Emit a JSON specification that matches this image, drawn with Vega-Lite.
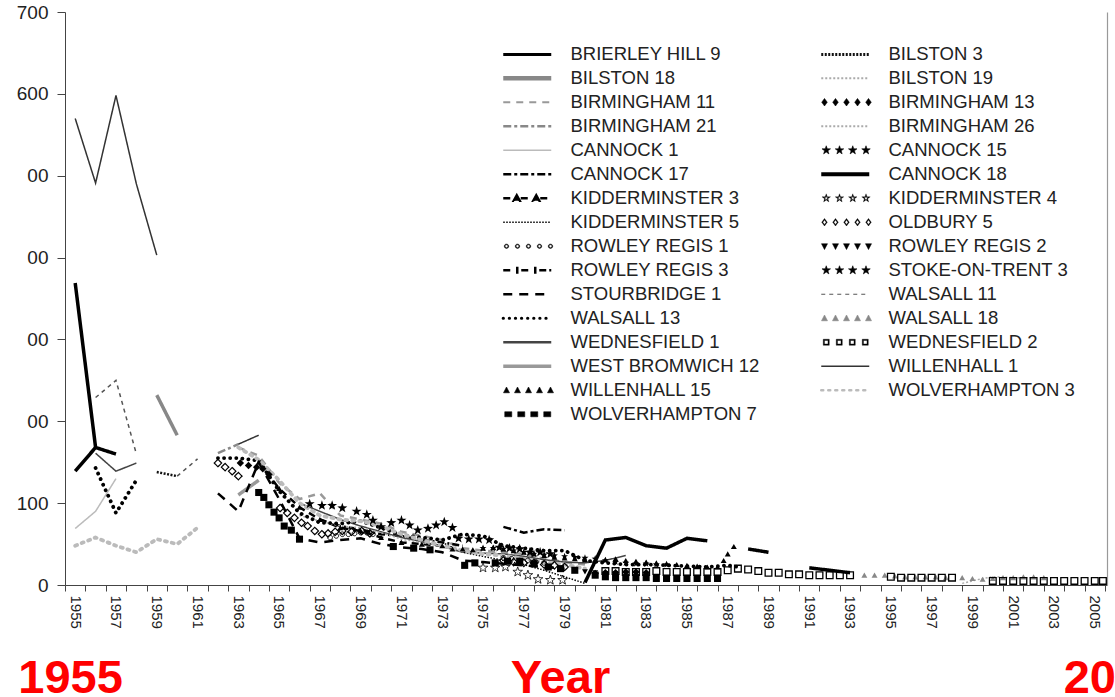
{
"$schema":"https://vega.github.io/schema/vega-lite/v6.json",
"autosize":{"type":"none"},
"width":1042,"height":573,
"padding":{"left":65,"top":12,"right":8,"bottom":112},
"background":"white",
"config":{"view":{"stroke":null},"font":"Liberation Sans","axis":{"grid":false},"legend":{"labelFont":"Liberation Sans"}},
"params":[
{"name":"shp","value":{
"L":"M-1,0H8.6",
"DIA":"M-0.35,-0.75L0.2,0L-0.35,0.75L-0.9,0ZM1.85,-0.75L2.4,0L1.85,0.75L1.3,0ZM4.05,-0.75L4.6,0L4.05,0.75L3.5,0ZM6.25,-0.75L6.8,0L6.25,0.75L5.7,0ZM8.45,-0.75L9,0L8.45,0.75L7.9,0Z",
"DIAH":"M-0.35,-0.75L0.2,0L-0.35,0.75L-0.9,0ZM-0.35,-0.45L-0.68,0L-0.35,0.45L-0.02,0ZM1.85,-0.75L2.4,0L1.85,0.75L1.3,0ZM1.85,-0.45L1.52,0L1.85,0.45L2.18,0ZM4.05,-0.75L4.6,0L4.05,0.75L3.5,0ZM4.05,-0.45L3.72,0L4.05,0.45L4.38,0ZM6.25,-0.75L6.8,0L6.25,0.75L5.7,0ZM6.25,-0.45L5.92,0L6.25,0.45L6.58,0ZM8.45,-0.75L9,0L8.45,0.75L7.9,0ZM8.45,-0.45L8.12,0L8.45,0.45L8.78,0Z",
"STAR":"M0,-0.9L0.212,-0.291L0.856,-0.278L0.342,0.111L0.529,0.728L0,0.36L-0.529,0.728L-0.342,0.111L-0.856,-0.278L-0.212,-0.291ZM2.65,-0.9L2.862,-0.291L3.506,-0.278L2.992,0.111L3.179,0.728L2.65,0.36L2.121,0.728L2.308,0.111L1.794,-0.278L2.438,-0.291ZM5.3,-0.9L5.512,-0.291L6.156,-0.278L5.642,0.111L5.829,0.728L5.3,0.36L4.771,0.728L4.958,0.111L4.444,-0.278L5.088,-0.291ZM7.95,-0.9L8.162,-0.291L8.806,-0.278L8.292,0.111L8.479,0.728L7.95,0.36L7.421,0.728L7.608,0.111L7.094,-0.278L7.738,-0.291Z",
"STARH":"M0,-0.9L0.212,-0.291L0.856,-0.278L0.342,0.111L0.529,0.728L0,0.36L-0.529,0.728L-0.342,0.111L-0.856,-0.278L-0.212,-0.291ZM0,-0.45L-0.106,-0.146L-0.428,-0.139L-0.171,0.056L-0.265,0.364L0,0.18L0.265,0.364L0.171,0.056L0.428,-0.139L0.106,-0.146ZM2.65,-0.9L2.862,-0.291L3.506,-0.278L2.992,0.111L3.179,0.728L2.65,0.36L2.121,0.728L2.308,0.111L1.794,-0.278L2.438,-0.291ZM2.65,-0.45L2.544,-0.146L2.222,-0.139L2.479,0.056L2.385,0.364L2.65,0.18L2.915,0.364L2.821,0.056L3.078,-0.139L2.756,-0.146ZM5.3,-0.9L5.512,-0.291L6.156,-0.278L5.642,0.111L5.829,0.728L5.3,0.36L4.771,0.728L4.958,0.111L4.444,-0.278L5.088,-0.291ZM5.3,-0.45L5.194,-0.146L4.872,-0.139L5.129,0.056L5.035,0.364L5.3,0.18L5.565,0.364L5.471,0.056L5.728,-0.139L5.406,-0.146ZM7.95,-0.9L8.162,-0.291L8.806,-0.278L8.292,0.111L8.479,0.728L7.95,0.36L7.421,0.728L7.608,0.111L7.094,-0.278L7.738,-0.291ZM7.95,-0.45L7.844,-0.146L7.522,-0.139L7.779,0.056L7.685,0.364L7.95,0.18L8.215,0.364L8.121,0.056L8.378,-0.139L8.056,-0.146Z",
"TRIU":"M-0.35,-0.65L0.25,0.5L-0.95,0.5ZM1.85,-0.65L2.45,0.5L1.25,0.5ZM4.05,-0.65L4.65,0.5L3.45,0.5ZM6.25,-0.65L6.85,0.5L5.65,0.5ZM8.45,-0.65L9.05,0.5L7.85,0.5Z",
"TRID":"M-0.95,-0.5L0.25,-0.5L-0.35,0.65ZM1.25,-0.5L2.45,-0.5L1.85,0.65ZM3.45,-0.5L4.65,-0.5L4.05,0.65ZM5.65,-0.5L6.85,-0.5L6.25,0.65ZM7.85,-0.5L9.05,-0.5L8.45,0.65Z",
"CIRH":"M-0.8,0a0.45,0.45 0 1,0 0.9,0a0.45,0.45 0 1,0 -0.9,0M-0.63,0a0.28,0.28 0 1,1 0.56,0a0.28,0.28 0 1,1 -0.56,0M1.4,0a0.45,0.45 0 1,0 0.9,0a0.45,0.45 0 1,0 -0.9,0M1.57,0a0.28,0.28 0 1,1 0.56,0a0.28,0.28 0 1,1 -0.56,0M3.6,0a0.45,0.45 0 1,0 0.9,0a0.45,0.45 0 1,0 -0.9,0M3.77,0a0.28,0.28 0 1,1 0.56,0a0.28,0.28 0 1,1 -0.56,0M5.8,0a0.45,0.45 0 1,0 0.9,0a0.45,0.45 0 1,0 -0.9,0M5.97,0a0.28,0.28 0 1,1 0.56,0a0.28,0.28 0 1,1 -0.56,0M8,0a0.45,0.45 0 1,0 0.9,0a0.45,0.45 0 1,0 -0.9,0M8.17,0a0.28,0.28 0 1,1 0.56,0a0.28,0.28 0 1,1 -0.56,0",
"SQH":"M-0.6,-0.6H0.6V0.6H-0.6ZM-0.35,-0.35V0.35H0.35V-0.35ZM2,-0.6H3.2V0.6H2ZM2.25,-0.35V0.35H2.95V-0.35ZM4.6,-0.6H5.8V0.6H4.6ZM4.85,-0.35V0.35H5.55V-0.35ZM7.2,-0.6H8.4V0.6H7.2ZM7.45,-0.35V0.35H8.15V-0.35Z",
"SQF":"M-0.7,-0.5H0.7V0.5H-0.7ZM1.9,-0.5H3.3V0.5H1.9ZM4.5,-0.5H5.9V0.5H4.5ZM7.1,-0.5H8.5V0.5H7.1Z",
"K3":"M-1,0H0.9M2.5,0H4.8M6.4,0H8.6M1.7,-0.6L2.3,0.5L1.1,0.5ZM5.6,-0.6L6.2,0.5L5,0.5Z",
"RR3":"M-1,0H1M2.6,0H4.6M6.2,0H8.6M1.8,-0.7V0.7M5.4,-0.7V0.7"}},
{"name":"sty","value":{
"BRIERLEY HILL 9":{"p":"L","w":3},
"BILSTON 3":{"p":"L","w":3},
"BILSTON 18":{"p":"L","w":4.5},
"BILSTON 19":{"p":"L","w":2},
"BIRMINGHAM 11":{"p":"L","w":2},
"BIRMINGHAM 13":{"p":"DIA","w":0.6},
"BIRMINGHAM 21":{"p":"L","w":2.5},
"BIRMINGHAM 26":{"p":"L","w":2},
"CANNOCK 1":{"p":"L","w":1.5},
"CANNOCK 15":{"p":"STAR","w":0.6},
"CANNOCK 17":{"p":"L","w":2.5},
"CANNOCK 18":{"p":"L","w":4},
"KIDDERMINSTER 3":{"p":"K3","w":2.5},
"KIDDERMINSTER 4":{"p":"STARH","w":0.3},
"KIDDERMINSTER 5":{"p":"L","w":1.5},
"OLDBURY 5":{"p":"DIAH","w":0.4},
"ROWLEY REGIS 1":{"p":"CIRH","w":0.4},
"ROWLEY REGIS 2":{"p":"TRID","w":0.6},
"ROWLEY REGIS 3":{"p":"RR3","w":2.5},
"STOKE-ON-TRENT 3":{"p":"STAR","w":0.6},
"STOURBRIDGE 1":{"p":"L","w":2.5},
"WALSALL 11":{"p":"L","w":1.2},
"WALSALL 13":{"p":"L","w":3.2,"r":true},
"WALSALL 18":{"p":"TRIU","w":0.6},
"WEDNESFIELD 1":{"p":"L","w":2.5},
"WEDNESFIELD 2":{"p":"SQH","w":0.4},
"WEST BROMWICH 12":{"p":"L","w":3.5},
"WILLENHALL 1":{"p":"L","w":1.5},
"WILLENHALL 15":{"p":"TRIU","w":0.6},
"WOLVERHAMPTON 3":{"p":"L","w":2.5,"r":true},
"WOLVERHAMPTON 7":{"p":"SQF","w":0.6}}}
],
"data":{"values":[
{"s":"BRIERLEY HILL 9","x":1955,"y":369},{"s":"BRIERLEY HILL 9","x":1956,"y":168},{"s":"BRIERLEY HILL 9","x":1957,"y":160},
{"s":"CANNOCK 18","x":1955,"y":139},{"s":"CANNOCK 18","x":1956,"y":168},{"s":"CANNOCK 18","x":1957,"y":null},{"s":"CANNOCK 18","x":1980,"y":3},{"s":"CANNOCK 18","x":1981,"y":55},{"s":"CANNOCK 18","x":1982,"y":58},{"s":"CANNOCK 18","x":1983,"y":48},{"s":"CANNOCK 18","x":1984,"y":45},{"s":"CANNOCK 18","x":1985,"y":57},{"s":"CANNOCK 18","x":1986,"y":54},{"s":"CANNOCK 18","x":1987,"y":null},{"s":"CANNOCK 18","x":1988,"y":44},{"s":"CANNOCK 18","x":1989,"y":40},{"s":"CANNOCK 18","x":1990,"y":null},{"s":"CANNOCK 18","x":1991,"y":21},{"s":"CANNOCK 18","x":1992,"y":18},{"s":"CANNOCK 18","x":1993,"y":15},
{"s":"BILSTON 18","x":1959,"y":232},{"s":"BILSTON 18","x":1960,"y":183},
{"s":"WEST BROMWICH 12","x":1963,"y":110},{"s":"WEST BROMWICH 12","x":1964,"y":128},
{"s":"WILLENHALL 1","x":1955,"y":570},{"s":"WILLENHALL 1","x":1956,"y":491},{"s":"WILLENHALL 1","x":1957,"y":598},{"s":"WILLENHALL 1","x":1958,"y":490},{"s":"WILLENHALL 1","x":1959,"y":403},{"s":"WILLENHALL 1","x":1960,"y":null},{"s":"WILLENHALL 1","x":1963,"y":172},{"s":"WILLENHALL 1","x":1964,"y":183},
{"s":"WEDNESFIELD 1","x":1956,"y":161},{"s":"WEDNESFIELD 1","x":1957,"y":139},{"s":"WEDNESFIELD 1","x":1958,"y":149},{"s":"WEDNESFIELD 1","x":1959,"y":null},{"s":"WEDNESFIELD 1","x":1966,"y":100},{"s":"WEDNESFIELD 1","x":1967,"y":90},{"s":"WEDNESFIELD 1","x":1968,"y":80},{"s":"WEDNESFIELD 1","x":1969,"y":72},{"s":"WEDNESFIELD 1","x":1970,"y":65},{"s":"WEDNESFIELD 1","x":1971,"y":58},{"s":"WEDNESFIELD 1","x":1972,"y":53},{"s":"WEDNESFIELD 1","x":1973,"y":47},{"s":"WEDNESFIELD 1","x":1974,"y":40},{"s":"WEDNESFIELD 1","x":1975,"y":39},{"s":"WEDNESFIELD 1","x":1976,"y":38},{"s":"WEDNESFIELD 1","x":1977,"y":35},{"s":"WEDNESFIELD 1","x":1978,"y":31},{"s":"WEDNESFIELD 1","x":1979,"y":28},{"s":"WEDNESFIELD 1","x":1980,"y":27},{"s":"WEDNESFIELD 1","x":1981,"y":30},{"s":"WEDNESFIELD 1","x":1982,"y":36},
{"s":"WALSALL 11","x":1956,"y":229},{"s":"WALSALL 11","x":1957,"y":250},{"s":"WALSALL 11","x":1958,"y":160},{"s":"WALSALL 11","x":1959,"y":null},{"s":"WALSALL 11","x":1960,"y":133},{"s":"WALSALL 11","x":1961,"y":154},
{"s":"BILSTON 3","x":1959,"y":138},{"s":"BILSTON 3","x":1960,"y":133},
{"s":"CANNOCK 1","x":1955,"y":69},{"s":"CANNOCK 1","x":1956,"y":90},{"s":"CANNOCK 1","x":1957,"y":130},
{"s":"BIRMINGHAM 21","x":1962,"y":161},{"s":"BIRMINGHAM 21","x":1963,"y":172},
{"s":"BIRMINGHAM 11","x":1963,"y":168},{"s":"BIRMINGHAM 11","x":1964,"y":158},{"s":"BIRMINGHAM 11","x":1965,"y":125},{"s":"BIRMINGHAM 11","x":1966,"y":105},{"s":"BIRMINGHAM 11","x":1967,"y":112},{"s":"BIRMINGHAM 11","x":1968,"y":85},{"s":"BIRMINGHAM 11","x":1969,"y":80},{"s":"BIRMINGHAM 11","x":1970,"y":75},{"s":"BIRMINGHAM 11","x":1971,"y":65},{"s":"BIRMINGHAM 11","x":1972,"y":60},{"s":"BIRMINGHAM 11","x":1973,"y":55},{"s":"BIRMINGHAM 11","x":1974,"y":45},{"s":"BIRMINGHAM 11","x":1975,"y":42},{"s":"BIRMINGHAM 11","x":1976,"y":40},{"s":"BIRMINGHAM 11","x":1977,"y":38},{"s":"BIRMINGHAM 11","x":1978,"y":32},{"s":"BIRMINGHAM 11","x":1979,"y":28},{"s":"BIRMINGHAM 11","x":1980,"y":25},
{"s":"STOURBRIDGE 1","x":1962,"y":112},{"s":"STOURBRIDGE 1","x":1963,"y":90},{"s":"STOURBRIDGE 1","x":1964,"y":150},{"s":"STOURBRIDGE 1","x":1965,"y":105},{"s":"STOURBRIDGE 1","x":1966,"y":57},{"s":"STOURBRIDGE 1","x":1967,"y":52},{"s":"STOURBRIDGE 1","x":1968,"y":55},{"s":"STOURBRIDGE 1","x":1969,"y":57},{"s":"STOURBRIDGE 1","x":1970,"y":50},{"s":"STOURBRIDGE 1","x":1971,"y":46},{"s":"STOURBRIDGE 1","x":1972,"y":44},{"s":"STOURBRIDGE 1","x":1973,"y":40},{"s":"STOURBRIDGE 1","x":1974,"y":30},{"s":"STOURBRIDGE 1","x":1975,"y":28},{"s":"STOURBRIDGE 1","x":1976,"y":26},{"s":"STOURBRIDGE 1","x":1977,"y":24},{"s":"STOURBRIDGE 1","x":1978,"y":22},{"s":"STOURBRIDGE 1","x":1979,"y":20},
{"s":"KIDDERMINSTER 3","x":1964,"y":150},{"s":"KIDDERMINSTER 3","x":1965,"y":118},{"s":"KIDDERMINSTER 3","x":1966,"y":95},{"s":"KIDDERMINSTER 3","x":1967,"y":80},{"s":"KIDDERMINSTER 3","x":1968,"y":70},{"s":"KIDDERMINSTER 3","x":1969,"y":66},{"s":"KIDDERMINSTER 3","x":1970,"y":58},{"s":"KIDDERMINSTER 3","x":1971,"y":52},{"s":"KIDDERMINSTER 3","x":1972,"y":50},{"s":"KIDDERMINSTER 3","x":1973,"y":48},
{"s":"CANNOCK 17","x":1976,"y":71},{"s":"CANNOCK 17","x":1977,"y":64},{"s":"CANNOCK 17","x":1978,"y":68},{"s":"CANNOCK 17","x":1979,"y":67},
{"s":"ROWLEY REGIS 3","x":1967,"y":80},{"s":"ROWLEY REGIS 3","x":1968,"y":72},{"s":"ROWLEY REGIS 3","x":1969,"y":68},{"s":"ROWLEY REGIS 3","x":1970,"y":62},{"s":"ROWLEY REGIS 3","x":1971,"y":60},{"s":"ROWLEY REGIS 3","x":1972,"y":55},{"s":"ROWLEY REGIS 3","x":1973,"y":52},{"s":"ROWLEY REGIS 3","x":1974,"y":48},
{"s":"KIDDERMINSTER 5","x":1973,"y":52},{"s":"KIDDERMINSTER 5","x":1974,"y":40},{"s":"KIDDERMINSTER 5","x":1975,"y":35},{"s":"KIDDERMINSTER 5","x":1976,"y":30},{"s":"KIDDERMINSTER 5","x":1977,"y":25},{"s":"KIDDERMINSTER 5","x":1978,"y":18},{"s":"KIDDERMINSTER 5","x":1979,"y":10},{"s":"KIDDERMINSTER 5","x":1980,"y":2},
{"s":"BILSTON 19","x":1966,"y":85},{"s":"BILSTON 19","x":1967,"y":78},{"s":"BILSTON 19","x":1968,"y":72},{"s":"BILSTON 19","x":1969,"y":70},{"s":"BILSTON 19","x":1970,"y":64},{"s":"BILSTON 19","x":1971,"y":56},{"s":"BILSTON 19","x":1972,"y":52},{"s":"BILSTON 19","x":1973,"y":47},
{"s":"BIRMINGHAM 26","x":1998.5,"y":2},{"s":"BIRMINGHAM 26","x":1999,"y":5},{"s":"BIRMINGHAM 26","x":1999.5,"y":8},{"s":"BIRMINGHAM 26","x":2000,"y":10},{"s":"BIRMINGHAM 26","x":2001,"y":9},{"s":"BIRMINGHAM 26","x":2002,"y":9},
{"s":"WALSALL 13","x":1956,"y":143},{"s":"WALSALL 13","x":1957,"y":88},{"s":"WALSALL 13","x":1958,"y":128},{"s":"WALSALL 13","x":1959,"y":null},{"s":"WALSALL 13","x":1962,"y":155},{"s":"WALSALL 13","x":1963,"y":155},{"s":"WALSALL 13","x":1964,"y":152},{"s":"WALSALL 13","x":1965,"y":115},{"s":"WALSALL 13","x":1966,"y":88},{"s":"WALSALL 13","x":1967,"y":76},{"s":"WALSALL 13","x":1968,"y":75},{"s":"WALSALL 13","x":1969,"y":78},{"s":"WALSALL 13","x":1970,"y":70},{"s":"WALSALL 13","x":1971,"y":61},{"s":"WALSALL 13","x":1972,"y":58},{"s":"WALSALL 13","x":1973,"y":55},{"s":"WALSALL 13","x":1974,"y":62},{"s":"WALSALL 13","x":1975,"y":60},{"s":"WALSALL 13","x":1976,"y":48},{"s":"WALSALL 13","x":1977,"y":45},{"s":"WALSALL 13","x":1978,"y":42},{"s":"WALSALL 13","x":1979,"y":42},{"s":"WALSALL 13","x":1980,"y":30},{"s":"WALSALL 13","x":1981,"y":27},{"s":"WALSALL 13","x":1982,"y":25},{"s":"WALSALL 13","x":1983,"y":25},{"s":"WALSALL 13","x":1984,"y":24},{"s":"WALSALL 13","x":1985,"y":23},{"s":"WALSALL 13","x":1986,"y":22},{"s":"WALSALL 13","x":1987,"y":24},{"s":"WALSALL 13","x":1987.5,"y":22},
{"s":"WOLVERHAMPTON 3","x":1955,"y":48},{"s":"WOLVERHAMPTON 3","x":1956,"y":58},{"s":"WOLVERHAMPTON 3","x":1957,"y":48},{"s":"WOLVERHAMPTON 3","x":1958,"y":40},{"s":"WOLVERHAMPTON 3","x":1959,"y":56},{"s":"WOLVERHAMPTON 3","x":1960,"y":50},{"s":"WOLVERHAMPTON 3","x":1961,"y":70},{"s":"WOLVERHAMPTON 3","x":1962,"y":null},{"s":"WOLVERHAMPTON 3","x":1963,"y":168},{"s":"WOLVERHAMPTON 3","x":1964,"y":153},{"s":"WOLVERHAMPTON 3","x":1965,"y":128},{"s":"WOLVERHAMPTON 3","x":1966,"y":100},{"s":"WOLVERHAMPTON 3","x":1967,"y":85},{"s":"WOLVERHAMPTON 3","x":1968,"y":80},{"s":"WOLVERHAMPTON 3","x":1969,"y":78},{"s":"WOLVERHAMPTON 3","x":1970,"y":72},{"s":"WOLVERHAMPTON 3","x":1971,"y":62},{"s":"WOLVERHAMPTON 3","x":1972,"y":55},{"s":"WOLVERHAMPTON 3","x":1973,"y":48},{"s":"WOLVERHAMPTON 3","x":1974,"y":42},{"s":"WOLVERHAMPTON 3","x":1975,"y":38},{"s":"WOLVERHAMPTON 3","x":1976,"y":36},{"s":"WOLVERHAMPTON 3","x":1977,"y":32},{"s":"WOLVERHAMPTON 3","x":1978,"y":28},{"s":"WOLVERHAMPTON 3","x":1979,"y":25},{"s":"WOLVERHAMPTON 3","x":1980,"y":20},
{"s":"BIRMINGHAM 13","x":1963.1,"y":149},{"s":"BIRMINGHAM 13","x":1963.5,"y":146},{"s":"BIRMINGHAM 13","x":1963.9,"y":144},{"s":"BIRMINGHAM 13","x":1964.2,"y":142},{"s":"BIRMINGHAM 13","x":1964.5,"y":135},{"s":"BIRMINGHAM 13","x":1980.5,"y":14},{"s":"BIRMINGHAM 13","x":1981,"y":15},{"s":"BIRMINGHAM 13","x":1981.5,"y":15},{"s":"BIRMINGHAM 13","x":1982,"y":16},{"s":"BIRMINGHAM 13","x":1982.5,"y":16},{"s":"BIRMINGHAM 13","x":1983,"y":15},
{"s":"OLDBURY 5","x":1962,"y":149},{"s":"OLDBURY 5","x":1962.35,"y":144},{"s":"OLDBURY 5","x":1962.7,"y":139},{"s":"OLDBURY 5","x":1963,"y":133},{"s":"OLDBURY 5","x":1965.05,"y":94},{"s":"OLDBURY 5","x":1965.4,"y":88},{"s":"OLDBURY 5","x":1965.75,"y":82},{"s":"OLDBURY 5","x":1966.1,"y":76},{"s":"OLDBURY 5","x":1966.4,"y":72},{"s":"OLDBURY 5","x":1966.75,"y":66},{"s":"OLDBURY 5","x":1967.1,"y":62},{"s":"OLDBURY 5","x":1967.4,"y":63},{"s":"OLDBURY 5","x":1967.75,"y":65},{"s":"OLDBURY 5","x":1968.1,"y":66},{"s":"OLDBURY 5","x":1968.55,"y":65},{"s":"OLDBURY 5","x":1969.05,"y":66},{"s":"OLDBURY 5","x":1969.45,"y":63},{"s":"OLDBURY 5","x":1976,"y":30},{"s":"OLDBURY 5","x":1976.5,"y":28},{"s":"OLDBURY 5","x":1977,"y":27},{"s":"OLDBURY 5","x":1977.5,"y":27},{"s":"OLDBURY 5","x":1978,"y":25},{"s":"OLDBURY 5","x":1978.5,"y":24},{"s":"OLDBURY 5","x":1979,"y":22},
{"s":"CANNOCK 15","x":1966.5,"y":99},{"s":"CANNOCK 15","x":1967.1,"y":97},{"s":"CANNOCK 15","x":1967.6,"y":97},{"s":"CANNOCK 15","x":1968.1,"y":94},{"s":"CANNOCK 15","x":1968.8,"y":90},{"s":"CANNOCK 15","x":1969.3,"y":86},{"s":"CANNOCK 15","x":1969.6,"y":79},{"s":"CANNOCK 15","x":1970,"y":71},{"s":"CANNOCK 15","x":1970.5,"y":76},{"s":"CANNOCK 15","x":1971,"y":79},{"s":"CANNOCK 15","x":1971.4,"y":73},{"s":"CANNOCK 15","x":1971.8,"y":67},{"s":"CANNOCK 15","x":1972.3,"y":69},{"s":"CANNOCK 15","x":1972.7,"y":73},{"s":"CANNOCK 15","x":1973.1,"y":77},{"s":"CANNOCK 15","x":1973.5,"y":70},{"s":"CANNOCK 15","x":1973.8,"y":57},{"s":"CANNOCK 15","x":1974.3,"y":56},{"s":"CANNOCK 15","x":1974.8,"y":56},{"s":"CANNOCK 15","x":1975.3,"y":55},{"s":"CANNOCK 15","x":1975.8,"y":46},{"s":"CANNOCK 15","x":1976.3,"y":45},{"s":"CANNOCK 15","x":1976.8,"y":44},{"s":"CANNOCK 15","x":1977.3,"y":40},{"s":"CANNOCK 15","x":1977.8,"y":40},{"s":"CANNOCK 15","x":1978.3,"y":38},
{"s":"STOKE-ON-TRENT 3","x":1975,"y":45},{"s":"STOKE-ON-TRENT 3","x":1975.5,"y":45},{"s":"STOKE-ON-TRENT 3","x":1976,"y":44},{"s":"STOKE-ON-TRENT 3","x":1976.5,"y":42},{"s":"STOKE-ON-TRENT 3","x":1977,"y":40},{"s":"STOKE-ON-TRENT 3","x":1977.5,"y":38},{"s":"STOKE-ON-TRENT 3","x":1978,"y":37},{"s":"STOKE-ON-TRENT 3","x":1978.5,"y":36},{"s":"STOKE-ON-TRENT 3","x":1979,"y":35},{"s":"STOKE-ON-TRENT 3","x":1979.5,"y":34},{"s":"STOKE-ON-TRENT 3","x":1980,"y":33},{"s":"STOKE-ON-TRENT 3","x":1980.5,"y":32},{"s":"STOKE-ON-TRENT 3","x":1981,"y":30},{"s":"STOKE-ON-TRENT 3","x":1981.5,"y":28},{"s":"STOKE-ON-TRENT 3","x":1982,"y":27},{"s":"STOKE-ON-TRENT 3","x":1982.5,"y":26},{"s":"STOKE-ON-TRENT 3","x":1983,"y":26},{"s":"STOKE-ON-TRENT 3","x":1983.5,"y":25},{"s":"STOKE-ON-TRENT 3","x":1984,"y":25},
{"s":"KIDDERMINSTER 4","x":1975,"y":21},{"s":"KIDDERMINSTER 4","x":1975.6,"y":21},{"s":"KIDDERMINSTER 4","x":1976.1,"y":22},{"s":"KIDDERMINSTER 4","x":1976.7,"y":16},{"s":"KIDDERMINSTER 4","x":1977.2,"y":12},{"s":"KIDDERMINSTER 4","x":1977.7,"y":7},{"s":"KIDDERMINSTER 4","x":1978.3,"y":6},{"s":"KIDDERMINSTER 4","x":1978.9,"y":6},
{"s":"WILLENHALL 15","x":1973.5,"y":44},{"s":"WILLENHALL 15","x":1974,"y":44},{"s":"WILLENHALL 15","x":1974.5,"y":43},{"s":"WILLENHALL 15","x":1975,"y":45},{"s":"WILLENHALL 15","x":1975.5,"y":46},{"s":"WILLENHALL 15","x":1976,"y":44},{"s":"WILLENHALL 15","x":1976.5,"y":42},{"s":"WILLENHALL 15","x":1977,"y":40},{"s":"WILLENHALL 15","x":1977.5,"y":38},{"s":"WILLENHALL 15","x":1978,"y":36},{"s":"WILLENHALL 15","x":1978.5,"y":34},{"s":"WILLENHALL 15","x":1979,"y":33},{"s":"WILLENHALL 15","x":1979.5,"y":32},{"s":"WILLENHALL 15","x":1980,"y":31},{"s":"WILLENHALL 15","x":1980.5,"y":30},{"s":"WILLENHALL 15","x":1981,"y":31},{"s":"WILLENHALL 15","x":1981.5,"y":32},{"s":"WILLENHALL 15","x":1982,"y":30},{"s":"WILLENHALL 15","x":1982.5,"y":29},{"s":"WILLENHALL 15","x":1983,"y":28},{"s":"WILLENHALL 15","x":1983.5,"y":27},{"s":"WILLENHALL 15","x":1984,"y":26},{"s":"WILLENHALL 15","x":1984.5,"y":25},{"s":"WILLENHALL 15","x":1985,"y":24},{"s":"WILLENHALL 15","x":1985.5,"y":23},{"s":"WILLENHALL 15","x":1986,"y":22},{"s":"WILLENHALL 15","x":1986.5,"y":22},{"s":"WILLENHALL 15","x":1986.8,"y":30},{"s":"WILLENHALL 15","x":1987,"y":38},{"s":"WILLENHALL 15","x":1987.3,"y":47},
{"s":"WALSALL 18","x":1993.7,"y":12},{"s":"WALSALL 18","x":1994.2,"y":12},{"s":"WALSALL 18","x":1994.7,"y":12},{"s":"WALSALL 18","x":1995.2,"y":11},{"s":"WALSALL 18","x":1995.7,"y":10},{"s":"WALSALL 18","x":1996.2,"y":10},{"s":"WALSALL 18","x":1996.7,"y":10},{"s":"WALSALL 18","x":1997.2,"y":10},{"s":"WALSALL 18","x":1997.7,"y":9},{"s":"WALSALL 18","x":1998.5,"y":9},{"s":"WALSALL 18","x":1999,"y":8},{"s":"WALSALL 18","x":1999.5,"y":7},{"s":"WALSALL 18","x":2000,"y":8},{"s":"WALSALL 18","x":2000.5,"y":9},{"s":"WALSALL 18","x":2001,"y":9},{"s":"WALSALL 18","x":2001.5,"y":10},{"s":"WALSALL 18","x":2002,"y":10},{"s":"WALSALL 18","x":2002.5,"y":9},
{"s":"ROWLEY REGIS 2","x":1979.5,"y":18},{"s":"ROWLEY REGIS 2","x":1980,"y":16},{"s":"ROWLEY REGIS 2","x":1980.5,"y":15},{"s":"ROWLEY REGIS 2","x":1981,"y":14},{"s":"ROWLEY REGIS 2","x":1981.5,"y":14},{"s":"ROWLEY REGIS 2","x":1982,"y":13},{"s":"ROWLEY REGIS 2","x":1982.5,"y":13},{"s":"ROWLEY REGIS 2","x":1983,"y":13},
{"s":"ROWLEY REGIS 1","x":1967.5,"y":58},{"s":"ROWLEY REGIS 1","x":1967.8,"y":60},{"s":"ROWLEY REGIS 1","x":1968.1,"y":62},{"s":"ROWLEY REGIS 1","x":1968.4,"y":62},{"s":"ROWLEY REGIS 1","x":1968.7,"y":63},{"s":"ROWLEY REGIS 1","x":1969,"y":64},{"s":"ROWLEY REGIS 1","x":1969.3,"y":64},{"s":"ROWLEY REGIS 1","x":1969.6,"y":62},{"s":"ROWLEY REGIS 1","x":1976,"y":33},{"s":"ROWLEY REGIS 1","x":1976.4,"y":32},{"s":"ROWLEY REGIS 1","x":1976.8,"y":30},{"s":"ROWLEY REGIS 1","x":1977.2,"y":30},{"s":"ROWLEY REGIS 1","x":1977.6,"y":28},{"s":"ROWLEY REGIS 1","x":1978,"y":27},
{"s":"WEDNESFIELD 2","x":1981,"y":17},{"s":"WEDNESFIELD 2","x":1981.5,"y":17},{"s":"WEDNESFIELD 2","x":1982,"y":16},{"s":"WEDNESFIELD 2","x":1982.5,"y":16},{"s":"WEDNESFIELD 2","x":1983,"y":16},{"s":"WEDNESFIELD 2","x":1983.5,"y":17},{"s":"WEDNESFIELD 2","x":1984,"y":16},{"s":"WEDNESFIELD 2","x":1984.5,"y":16},{"s":"WEDNESFIELD 2","x":1985,"y":16},{"s":"WEDNESFIELD 2","x":1985.5,"y":16},{"s":"WEDNESFIELD 2","x":1986,"y":16},{"s":"WEDNESFIELD 2","x":1986.5,"y":16},{"s":"WEDNESFIELD 2","x":1987,"y":18},{"s":"WEDNESFIELD 2","x":1987.5,"y":20},{"s":"WEDNESFIELD 2","x":1988,"y":19},{"s":"WEDNESFIELD 2","x":1988.5,"y":17},{"s":"WEDNESFIELD 2","x":1989,"y":15},{"s":"WEDNESFIELD 2","x":1989.5,"y":15},{"s":"WEDNESFIELD 2","x":1990,"y":13},{"s":"WEDNESFIELD 2","x":1990.5,"y":13},{"s":"WEDNESFIELD 2","x":1991,"y":12},{"s":"WEDNESFIELD 2","x":1991.5,"y":12},{"s":"WEDNESFIELD 2","x":1992,"y":12},{"s":"WEDNESFIELD 2","x":1992.5,"y":12},{"s":"WEDNESFIELD 2","x":1993,"y":12},{"s":"WEDNESFIELD 2","x":1995,"y":10},{"s":"WEDNESFIELD 2","x":1995.5,"y":9},{"s":"WEDNESFIELD 2","x":1996,"y":9},{"s":"WEDNESFIELD 2","x":1996.5,"y":9},{"s":"WEDNESFIELD 2","x":1997,"y":9},{"s":"WEDNESFIELD 2","x":1997.5,"y":9},{"s":"WEDNESFIELD 2","x":1998,"y":9},{"s":"WEDNESFIELD 2","x":2000,"y":5},{"s":"WEDNESFIELD 2","x":2000.5,"y":5},{"s":"WEDNESFIELD 2","x":2001,"y":5},{"s":"WEDNESFIELD 2","x":2001.5,"y":5},{"s":"WEDNESFIELD 2","x":2002,"y":5},{"s":"WEDNESFIELD 2","x":2002.5,"y":5},{"s":"WEDNESFIELD 2","x":2003,"y":5},{"s":"WEDNESFIELD 2","x":2003.5,"y":5},{"s":"WEDNESFIELD 2","x":2004,"y":5},{"s":"WEDNESFIELD 2","x":2004.5,"y":5},{"s":"WEDNESFIELD 2","x":2005,"y":5},{"s":"WEDNESFIELD 2","x":2005.4,"y":5},
{"s":"WOLVERHAMPTON 7","x":1964,"y":113},{"s":"WOLVERHAMPTON 7","x":1964.25,"y":107},{"s":"WOLVERHAMPTON 7","x":1964.5,"y":98},{"s":"WOLVERHAMPTON 7","x":1964.75,"y":89},{"s":"WOLVERHAMPTON 7","x":1965,"y":82},{"s":"WOLVERHAMPTON 7","x":1965.25,"y":72},{"s":"WOLVERHAMPTON 7","x":1965.6,"y":67},{"s":"WOLVERHAMPTON 7","x":1966,"y":56},{"s":"WOLVERHAMPTON 7","x":1970.6,"y":47},{"s":"WOLVERHAMPTON 7","x":1971.6,"y":45},{"s":"WOLVERHAMPTON 7","x":1972.4,"y":43},{"s":"WOLVERHAMPTON 7","x":1974.1,"y":24},{"s":"WOLVERHAMPTON 7","x":1974.6,"y":27},{"s":"WOLVERHAMPTON 7","x":1975.6,"y":27},{"s":"WOLVERHAMPTON 7","x":1976.2,"y":29},{"s":"WOLVERHAMPTON 7","x":1976.8,"y":29},{"s":"WOLVERHAMPTON 7","x":1977.5,"y":26},{"s":"WOLVERHAMPTON 7","x":1978.2,"y":22},{"s":"WOLVERHAMPTON 7","x":1978.8,"y":20},{"s":"WOLVERHAMPTON 7","x":1979.5,"y":18},{"s":"WOLVERHAMPTON 7","x":1980.5,"y":12},{"s":"WOLVERHAMPTON 7","x":1981,"y":10},{"s":"WOLVERHAMPTON 7","x":1981.5,"y":9},{"s":"WOLVERHAMPTON 7","x":1982,"y":9},{"s":"WOLVERHAMPTON 7","x":1982.5,"y":9},{"s":"WOLVERHAMPTON 7","x":1983,"y":9},{"s":"WOLVERHAMPTON 7","x":1983.5,"y":8},{"s":"WOLVERHAMPTON 7","x":1984,"y":8},{"s":"WOLVERHAMPTON 7","x":1984.5,"y":8},{"s":"WOLVERHAMPTON 7","x":1985,"y":8},{"s":"WOLVERHAMPTON 7","x":1985.5,"y":8},{"s":"WOLVERHAMPTON 7","x":1986,"y":8},{"s":"WOLVERHAMPTON 7","x":1986.5,"y":8}
]},
"encoding":{
"x":{"field":"x","type":"quantitative","scale":{"domain":[1954.5,2005.6],"nice":false,"zero":false},"axis":null},
"y":{"field":"y","type":"quantitative","scale":{"domain":[0,700],"nice":false},"axis":null},
"color":{"field":"s","type":"nominal",
"scale":{"domain":["BRIERLEY HILL 9","BILSTON 3","BILSTON 18","BILSTON 19","BIRMINGHAM 11","BIRMINGHAM 13","BIRMINGHAM 21","BIRMINGHAM 26","CANNOCK 1","CANNOCK 15","CANNOCK 17","CANNOCK 18","KIDDERMINSTER 3","KIDDERMINSTER 4","KIDDERMINSTER 5","OLDBURY 5","ROWLEY REGIS 1","ROWLEY REGIS 2","ROWLEY REGIS 3","STOKE-ON-TRENT 3","STOURBRIDGE 1","WALSALL 11","WALSALL 13","WALSALL 18","WEDNESFIELD 1","WEDNESFIELD 2","WEST BROMWICH 12","WILLENHALL 1","WILLENHALL 15","WOLVERHAMPTON 3","WOLVERHAMPTON 7"],
"range":["#000","#111","#888","#aaa","#999","#000","#888","#aaa","#bbb","#000","#000","#000","#000","#000","#000","#000","#000","#000","#000","#000","#000","#555","#000","#888","#444","#000","#999","#333","#000","#bbb","#000"]},
"legend":{"orient":"none","direction":"horizontal","legendX":434,"legendY":33,"columns":2,"title":null,"symbolSize":100,"symbolLimit":40,"symbolType":"M-1,0H8.6","labelFontSize":18.5,"labelColor":"#222","labelOffset":53,"rowPadding":5,"columnPadding":53,"gridAlign":"all","labelLimit":300,
"encode":{"symbols":{"update":{
"shape":{"signal":"sty[datum.value] ? shp[sty[datum.value].p] : 'stroke'"},
"strokeWidth":{"signal":"sty[datum.value] ? sty[datum.value].w : 1"},
"strokeCap":{"signal":"(sty[datum.value] && sty[datum.value].r) ? 'round' : 'butt'"},
"opacity":{"value":1}}}}}},
"strokeDash":{"field":"s","type":"nominal","legend":null,"scale":{"domain":["BRIERLEY HILL 9","BILSTON 3","BILSTON 18","BILSTON 19","BIRMINGHAM 11","BIRMINGHAM 13","BIRMINGHAM 21","BIRMINGHAM 26","CANNOCK 1","CANNOCK 15","CANNOCK 17","CANNOCK 18","KIDDERMINSTER 3","KIDDERMINSTER 4","KIDDERMINSTER 5","OLDBURY 5","ROWLEY REGIS 1","ROWLEY REGIS 2","ROWLEY REGIS 3","STOKE-ON-TRENT 3","STOURBRIDGE 1","WALSALL 11","WALSALL 13","WALSALL 18","WEDNESFIELD 1","WEDNESFIELD 2","WEST BROMWICH 12","WILLENHALL 1","WILLENHALL 15","WOLVERHAMPTON 3","WOLVERHAMPTON 7"],"range":[[1,0],[2,1.5],[1,0],[2,2],[7,6],[1,0],[8,3,3,3],[2,2],[1,0],[1,0],[8,3,3,3],[1,0],[7,5],[1,0],[1.5,1.5],[1,0],[1,0],[1,0],[7,3,2,3],[1,0],[9,7],[4,4],[0.1,6],[1,0],[1,0],[1,0],[1,0],[1,0],[1,0],[2,5],[1,0]]}}
},
"resolve":{"axis":{"x":"independent","y":"independent"}},
"layer":[
{"transform":[{"filter":{"field":"s","oneOf":["BRIERLEY HILL 9","CANNOCK 18","BILSTON 18","WEST BROMWICH 12"]}}],
 "mark":{"type":"line","strokeWidth":3.5},
 "encoding":{
 "x":{"field":"x","type":"quantitative","scale":{"domain":[1954.5,2005.6],"nice":false,"zero":false},
  "axis":{"orient":"bottom","values":[1954.5,1955.5,1956.5,1957.5,1958.5,1959.5,1960.5,1961.5,1962.5,1963.5,1964.5,1965.5,1966.5,1967.5,1968.5,1969.5,1970.5,1971.5,1972.5,1973.5,1974.5,1975.5,1976.5,1977.5,1978.5,1979.5,1980.5,1981.5,1982.5,1983.5,1984.5,1985.5,1986.5,1987.5,1988.5,1989.5,1990.5,1991.5,1992.5,1993.5,1994.5,1995.5,1996.5,1997.5,1998.5,1999.5,2000.5,2001.5,2002.5,2003.5,2004.5,2005.5],
  "labelExpr":"((datum.value + 0.5) % 2 == 1) ? ('' + (datum.value + 0.5)) : ''",
  "labelAngle":90,"labelAlign":"left","labelBaseline":"middle","labelOffset":10,"labelFontSize":15,"labelColor":"#222","labelPadding":4,"tickSize":6,"tickColor":"#444","domainColor":"#444","labelOverlap":false,"labelBound":false,"labelFlush":false,"title":null,"grid":false}},
 "y":{"field":"y","type":"quantitative","scale":{"domain":[0,700],"nice":false},
  "axis":{"orient":"left","values":[0,100,200,300,400,500,600,700],"labelExpr":"(datum.value >= 200 && datum.value <= 500) ? '00' : datum.label","tickSize":8,"labelFontSize":19,"labelColor":"#222","labelPadding":9,"tickColor":"#444","domainColor":"#444","title":null,"grid":false}}}},
{"transform":[{"filter":{"field":"s","oneOf":["BILSTON 3","BIRMINGHAM 21","CANNOCK 17","KIDDERMINSTER 3","ROWLEY REGIS 3","STOURBRIDGE 1","BIRMINGHAM 11"]}}],
 "mark":{"type":"line","strokeWidth":2.5}},
{"transform":[{"filter":{"field":"s","oneOf":["BILSTON 19","BIRMINGHAM 26","CANNOCK 1","KIDDERMINSTER 5","WALSALL 11","WILLENHALL 1","WEDNESFIELD 1"]}}],
 "mark":{"type":"line","strokeWidth":1.5}},
{"transform":[{"filter":{"field":"s","oneOf":["WALSALL 13","WOLVERHAMPTON 3"]}}],
 "mark":{"type":"line","strokeWidth":3.8,"strokeCap":"round"}},
{"transform":[{"filter":{"field":"s","equal":"BIRMINGHAM 13"}}],
 "mark":{"type":"point","shape":"diamond","filled":true,"size":55,"opacity":1},
 "encoding":{
 "x":{"field":"x","type":"quantitative","scale":{"domain":[1954.5,2005.6],"nice":false,"zero":false},
  "axis":{"orient":"bottom","values":[1954.75,2003.45],"labelExpr":"datum.value < 1980 ? '1955' : '2005'","ticks":false,"tickSize":0,"domain":false,"grid":false,"labelAngle":0,"labelFontSize":47,"labelFontWeight":"bold","labelColor":"#ff0000","labelAlign":{"condition":{"test":"datum.value > 2000","value":"left"},"value":"center"},"labelBaseline":"alphabetic","labelPadding":107,"labelBound":false,"labelOverlap":false,"labelFlush":false,
  "title":"Year","titleFontSize":47,"titleFontWeight":"bold","titleColor":"#ff0000","titleX":495,"titleY":107,"titleBaseline":"alphabetic","titleAlign":"center"}},
 "y":{"field":"y","type":"quantitative","scale":{"domain":[0,700],"nice":false},
  "axis":{"orient":"right","labels":false,"ticks":false,"title":null,"grid":false,"domainColor":"#999","domainWidth":1.2}}}},
{"transform":[{"filter":{"field":"s","equal":"OLDBURY 5"}}],
 "mark":{"type":"point","shape":"diamond","filled":false,"size":55,"strokeWidth":1.2,"opacity":1}},
{"transform":[{"filter":{"field":"s","equal":"CANNOCK 15"}}],
 "mark":{"type":"point","shape":"M0,-1L0.235,-0.324L0.951,-0.309L0.38,0.124L0.588,0.809L0,0.4L-0.588,0.809L-0.38,0.124L-0.951,-0.309L-0.235,-0.324Z","filled":true,"size":110,"opacity":1}},
{"transform":[{"filter":{"field":"s","equal":"STOKE-ON-TRENT 3"}}],
 "mark":{"type":"point","shape":"M0,-1L0.235,-0.324L0.951,-0.309L0.38,0.124L0.588,0.809L0,0.4L-0.588,0.809L-0.38,0.124L-0.951,-0.309L-0.235,-0.324Z","filled":true,"size":55,"opacity":1}},
{"transform":[{"filter":{"field":"s","equal":"KIDDERMINSTER 4"}}],
 "mark":{"type":"point","shape":"M0,-1L0.235,-0.324L0.951,-0.309L0.38,0.124L0.588,0.809L0,0.4L-0.588,0.809L-0.38,0.124L-0.951,-0.309L-0.235,-0.324Z","filled":false,"size":100,"strokeWidth":0.9,"opacity":1}},
{"transform":[{"filter":{"field":"s","oneOf":["WILLENHALL 15","WALSALL 18","KIDDERMINSTER 3"]}}],
 "mark":{"type":"point","shape":"triangle-up","filled":true,"size":35,"opacity":1}},
{"transform":[{"filter":{"field":"s","equal":"ROWLEY REGIS 2"}}],
 "mark":{"type":"point","shape":"triangle-down","filled":true,"size":35,"opacity":1}},
{"transform":[{"filter":{"field":"s","equal":"ROWLEY REGIS 1"}}],
 "mark":{"type":"point","shape":"circle","filled":false,"size":22,"strokeWidth":1,"opacity":1}},
{"transform":[{"filter":{"field":"s","equal":"WEDNESFIELD 2"}}],
 "mark":{"type":"point","shape":"square","filled":false,"size":45,"strokeWidth":1.3,"opacity":1}},
{"transform":[{"filter":{"field":"s","equal":"WOLVERHAMPTON 7"}}],
 "mark":{"type":"point","shape":"square","filled":true,"size":50,"opacity":1}}
]
}
